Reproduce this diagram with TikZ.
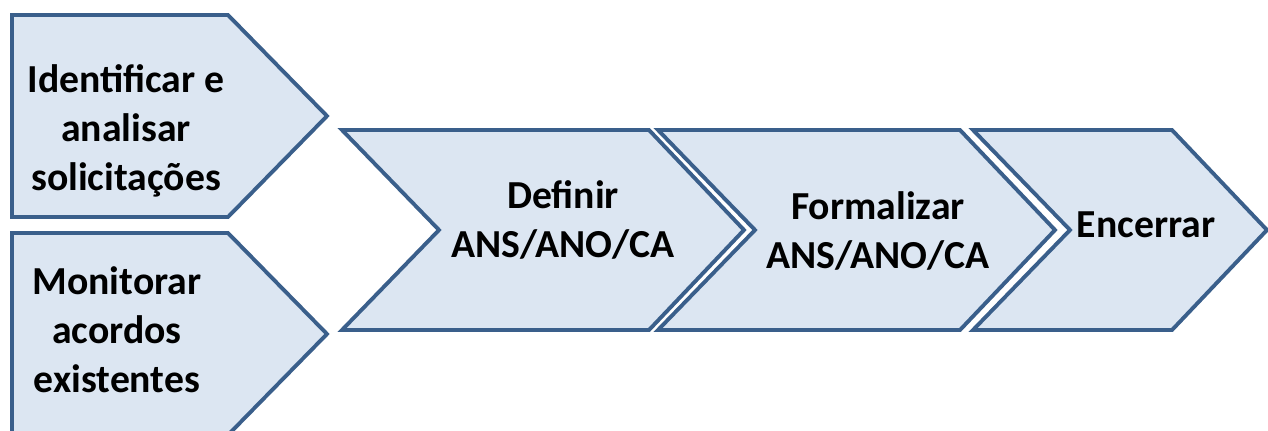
\documentclass[tikz,border=0pt]{standalone}
\usepackage{fontspec}
\setmainfont{Carlito}
\usetikzlibrary{positioning}

\definecolor{bordaazul}{HTML}{3A5F8B}
\definecolor{fundoazul}{HTML}{DCE6F2}

\tikzset{
  etapa/.style={draw=bordaazul,fill=fundoazul,line width=2.2pt,line join=miter},
  rotulo/.style={font=\fontsize{22.6}{28}\selectfont\bfseries,align=center,text=black,inner sep=0pt}
}

\begin{document}
\begin{tikzpicture}[x=0.02cm,y=-0.02cm]
\useasboundingbox (0,0) rectangle (1268,430);

% entradas
\foreach \t in {15,233}
  \draw[etapa] (12,\t) -- (228,\t) -- (327,\t+101) -- (228,\t+202) -- (12,\t+202) -- cycle;

% etapas
\foreach \l/\r in {342/649,658/960,973/1172}
  \draw[etapa] (\l,130) -- (\r,130) -- (\r+95,230) -- (\r,330) -- (\l,330) -- (\l+97,230) -- cycle;

\node[rotulo] (ident) at (126,131) {Identificar e\\analisar\\solicitações};
\node[rotulo] (monit) at (117,330) {Monitorar\\acordos\\existentes};
\node[rotulo] (defin) at (563,220) {Definir\\ANS/ANO/CA};
\node[rotulo] (forma) at (878,231) {Formalizar\\ANS/ANO/CA};
\node[rotulo] (encer) at (1146,225) {Encerrar};
\end{tikzpicture}
\end{document}
